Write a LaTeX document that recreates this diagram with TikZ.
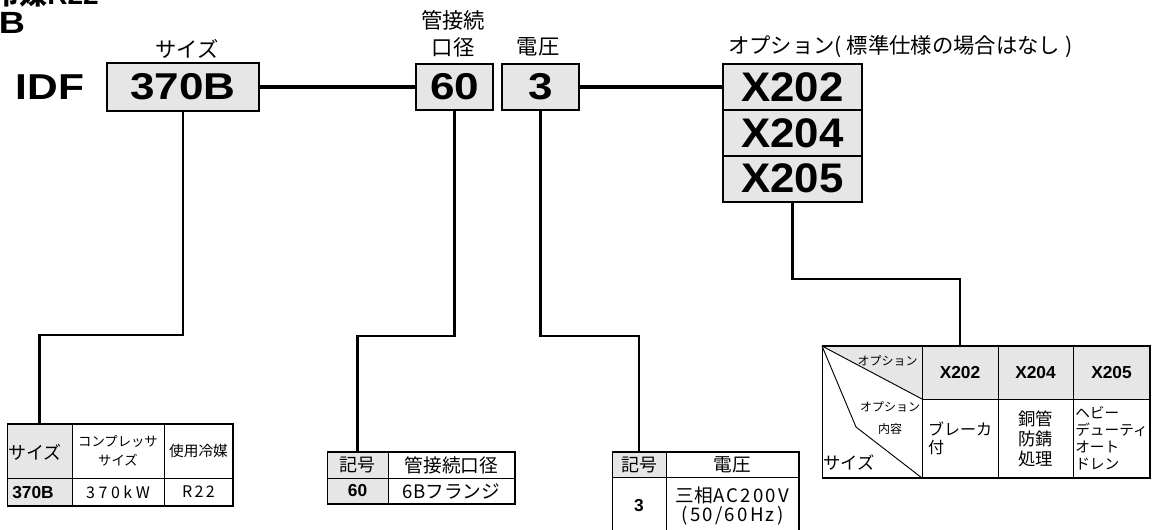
\documentclass[tikz,border=0pt]{standalone}
\usepackage{fontspec}
\setmainfont{Liberation Sans}
\newfontfamily\jp{Noto Sans CJK JP}
\newfontfamily\lat{Liberation Sans}
\newfontfamily\stA[FakeStretch=1.18]{Liberation Sans}
\newfontfamily\stB[FakeStretch=1.06]{Liberation Sans}
\newcommand\fsz[2]{\fontsize{#1}{#2}\selectfont}
\definecolor{boxgray}{HTML}{E6E6E6}
\begin{document}
\begin{tikzpicture}[x=0.75pt,y=-0.75pt,
  bigbox/.style={draw=black, line width=1.5pt, fill=boxgray, inner sep=0pt, outer sep=0pt,
     minimum height=34.5pt, font=\stA\bfseries\fsz{28}{30}},
  xbox/.style={draw=black, line width=1.5pt, fill=boxgray, inner sep=0pt, outer sep=0pt,
     minimum width=104.25pt, minimum height=34.5pt, font=\stB\bfseries\fsz{31}{33}},
  toplabel/.style={font=\jp\fsz{16}{18}, inner sep=0pt},
  mainline/.style={line width=2.4pt},
  conn/.style={line width=1.6pt},
  tcell/.style={draw=black, line width=0.7pt, inner sep=0pt, outer sep=0pt, anchor=north west, align=center},
  tborder/.style={line width=1.4pt},
  shaded/.style={fill=boxgray}
]
\useasboundingbox (0,0) rectangle (1152,529);

% top-left clipped texts
\node[anchor=base east, inner sep=0pt, font=\lat\bfseries\fsz{21}{23}] (topr) at (99,4.5) {{\jp\bfseries 冷媒}R22};
\node[anchor=base west, inner sep=0pt, font=\stA\bfseries\fsz{23}{25}] (topb) at (-1.5,33) {B};

% model code
\node[inner sep=0pt, font=\stA\bfseries\fsz{27}{29}] (idf) at (50,87) {IDF};
\node[bigbox, minimum width=114pt, minimum height=36pt] (b370) at (183,87) {370B};
\node[bigbox, minimum width=57.75pt] (b60) at (454.5,87) {60};
\node[bigbox, minimum width=57.75pt] (b3) at (540.5,87) {3};
\node[xbox] (x202) at (792.5,87) {X202};
\node[xbox] (x204) at (792.5,133) {X204};
\node[xbox] (x205) at (792.5,178.5) {X205};

% labels
\node[toplabel] (lsize) at (187,49) {サイズ};
\node[toplabel] (lpipe1) at (453,20) {管接続};
\node[toplabel] (lpipe2) at (453,47) {口径};
\node[toplabel] (lvolt) at (538,47) {電圧};
\node[toplabel, anchor=west] (lopt) at (728,47) {オプション( 標準仕様の場合はなし )};

\draw[mainline] (b370.east) -- (b60.west);
\draw[mainline] (b3.east) -- (x202.west);

% ---------- table 1 ----------
\node[tcell, shaded, minimum width=48.75pt, minimum height=40.5pt] (t1a) at (7,424) {};
\node[tcell, minimum width=69pt, minimum height=40.5pt, font=\jp\fsz{10}{14}] (t1b) at (72,424) {コンプレッサ\\サイズ};
\node[tcell, minimum width=51.75pt, minimum height=40.5pt, font=\jp\fsz{11}{13}] (t1c) at (164,424) {\raisebox{-2pt}{使用冷媒}};
\node[tcell, shaded, minimum width=48.75pt, minimum height=21pt] (t1d) at (7,478) {};
\node[tcell, minimum width=69pt, minimum height=21pt, font=\jp\fsz{12}{14}] (t1e) at (72,478) {\addfontfeature{LetterSpace=22}370kW};
\node[tcell, minimum width=51.75pt, minimum height=21pt, font=\jp\fsz{12}{14}] (t1f) at (164,478) {\addfontfeature{LetterSpace=15}R22};
\node[anchor=west, inner sep=0pt, font=\jp\fsz{13.5}{15}] (t1at) at (8,452) {サイズ};
\node[anchor=west, inner sep=0pt, font=\lat\bfseries\fsz{13}{15}] (t1dt) at (12,493) {370B};
\draw[tborder] (t1a.north west) -- (t1c.north east) -- (t1f.south east) -- (t1d.south west);

% ---------- table 2 ----------
\node[tcell, shaded, minimum width=45.75pt, minimum height=19.5pt, font=\jp\fsz{13.5}{15}] (t2a) at (327,452) {記号};
\node[tcell, minimum width=95.25pt, minimum height=19.5pt, font=\jp\fsz{14}{16}] (t2b) at (388,452) {管接続口径};
\node[tcell, shaded, minimum width=45.75pt, minimum height=19.5pt, font=\lat\bfseries\fsz{13}{15}] (t2c) at (327,478) {60};
\node[tcell, minimum width=95.25pt, minimum height=19.5pt, font=\jp\fsz{14}{16}] (t2d) at (388,478) {6Bフランジ};
\draw[tborder] (t2a.north west) -- (t2b.north east) -- (t2d.south east) -- (t2c.south west);

% ---------- table 3 ----------
\node[tcell, shaded, minimum width=40.5pt, minimum height=18.75pt, font=\jp\fsz{13.5}{15}] (t3a) at (612,452) {記号};
\node[tcell, minimum width=99.75pt, minimum height=18.75pt, font=\jp\fsz{14}{16}] (t3b) at (666,452) {電圧};
\node[tcell, minimum width=40.5pt, minimum height=43.5pt, font=\lat\bfseries\fsz{13}{15}] (t3c) at (612,477) {3};
\node[tcell, minimum width=99.75pt, minimum height=43.5pt, font=\jp\fsz{14}{14.5}] (t3d) at (666,477) {三相{\addfontfeature{LetterSpace=12}AC200V}\\{\addfontfeature{LetterSpace=12}(50/60Hz)}};
\draw[tborder] (t3a.north west) -- (t3b.north east) -- (t3d.south east);

% ---------- table 4 ----------
\fill[boxgray] (822,346) -- (922,346) -- (922,399) -- cycle;
\node[tcell, minimum width=75pt, minimum height=99pt] (t4a) at (822,346) {};
\node[tcell, shaded, minimum width=57pt, minimum height=39.75pt, font=\lat\bfseries\fsz{13}{15}] (t4b) at (922,346) {\raisebox{-3pt}{X202}};
\node[tcell, shaded, minimum width=56.25pt, minimum height=39.75pt, font=\lat\bfseries\fsz{13}{15}] (t4c) at (998,346) {\raisebox{-3pt}{X204}};
\node[tcell, shaded, minimum width=57.75pt, minimum height=39.75pt, font=\lat\bfseries\fsz{13}{15}] (t4d) at (1073,346) {\raisebox{-3pt}{X205}};
\node[tcell, minimum width=57pt, minimum height=59.25pt, font=\jp\fsz{12}{13.5}, align=left] (t4e) at (922,399) {ブレーカ\\付};
\node[tcell, minimum width=56.25pt, minimum height=59.25pt, font=\jp\fsz{13}{15}] (t4f) at (998,399) {銅管\\防錆\\処理};
\node[tcell, minimum width=57.75pt, minimum height=59.25pt, font=\jp\fsz{11}{12.75}, align=left] (t4g) at (1073,399) {ヘビー\\デューティ\\オート\\ドレン};
\draw[line width=0.7pt] (t4a.north west) -- (922,399);
\draw[line width=0.7pt] (t4a.north west) -- (856,427) -- (t4a.south east);
\node[anchor=east, inner sep=0pt, font=\jp\fsz{9}{10}] (t4opt) at (918,361) {オプション};
\node[inner sep=0pt, font=\jp\fsz{9}{17}, align=center] (t4cont) at (890,418) {オプション\\内容};
\node[anchor=west, inner sep=0pt, font=\jp\fsz{13}{15}] (t4size) at (823,463) {サイズ};
\draw[tborder] (t4a.north west) -- (t4d.north east) -- (t4g.south east) -- (t4a.south west);

% ---------- connectors ----------
\draw[conn] (b370.south) -- (b370.south |- 0,335) -- (t1a.north |- 0,335) -- (t1a.north);
\draw[conn] (b60.south) -- (b60.south |- 0,336) -- (t2a.north |- 0,336) -- (t2a.north);
\draw[conn] (b3.south) -- (b3.south |- 0,336) -- (t3a.north |- 0,336) -- (t3a.north);
\draw[conn] (x205.south) -- (x205.south |- 0,279) -- (t4b.north |- 0,279) -- (t4b.north);
\end{tikzpicture}
\end{document}
